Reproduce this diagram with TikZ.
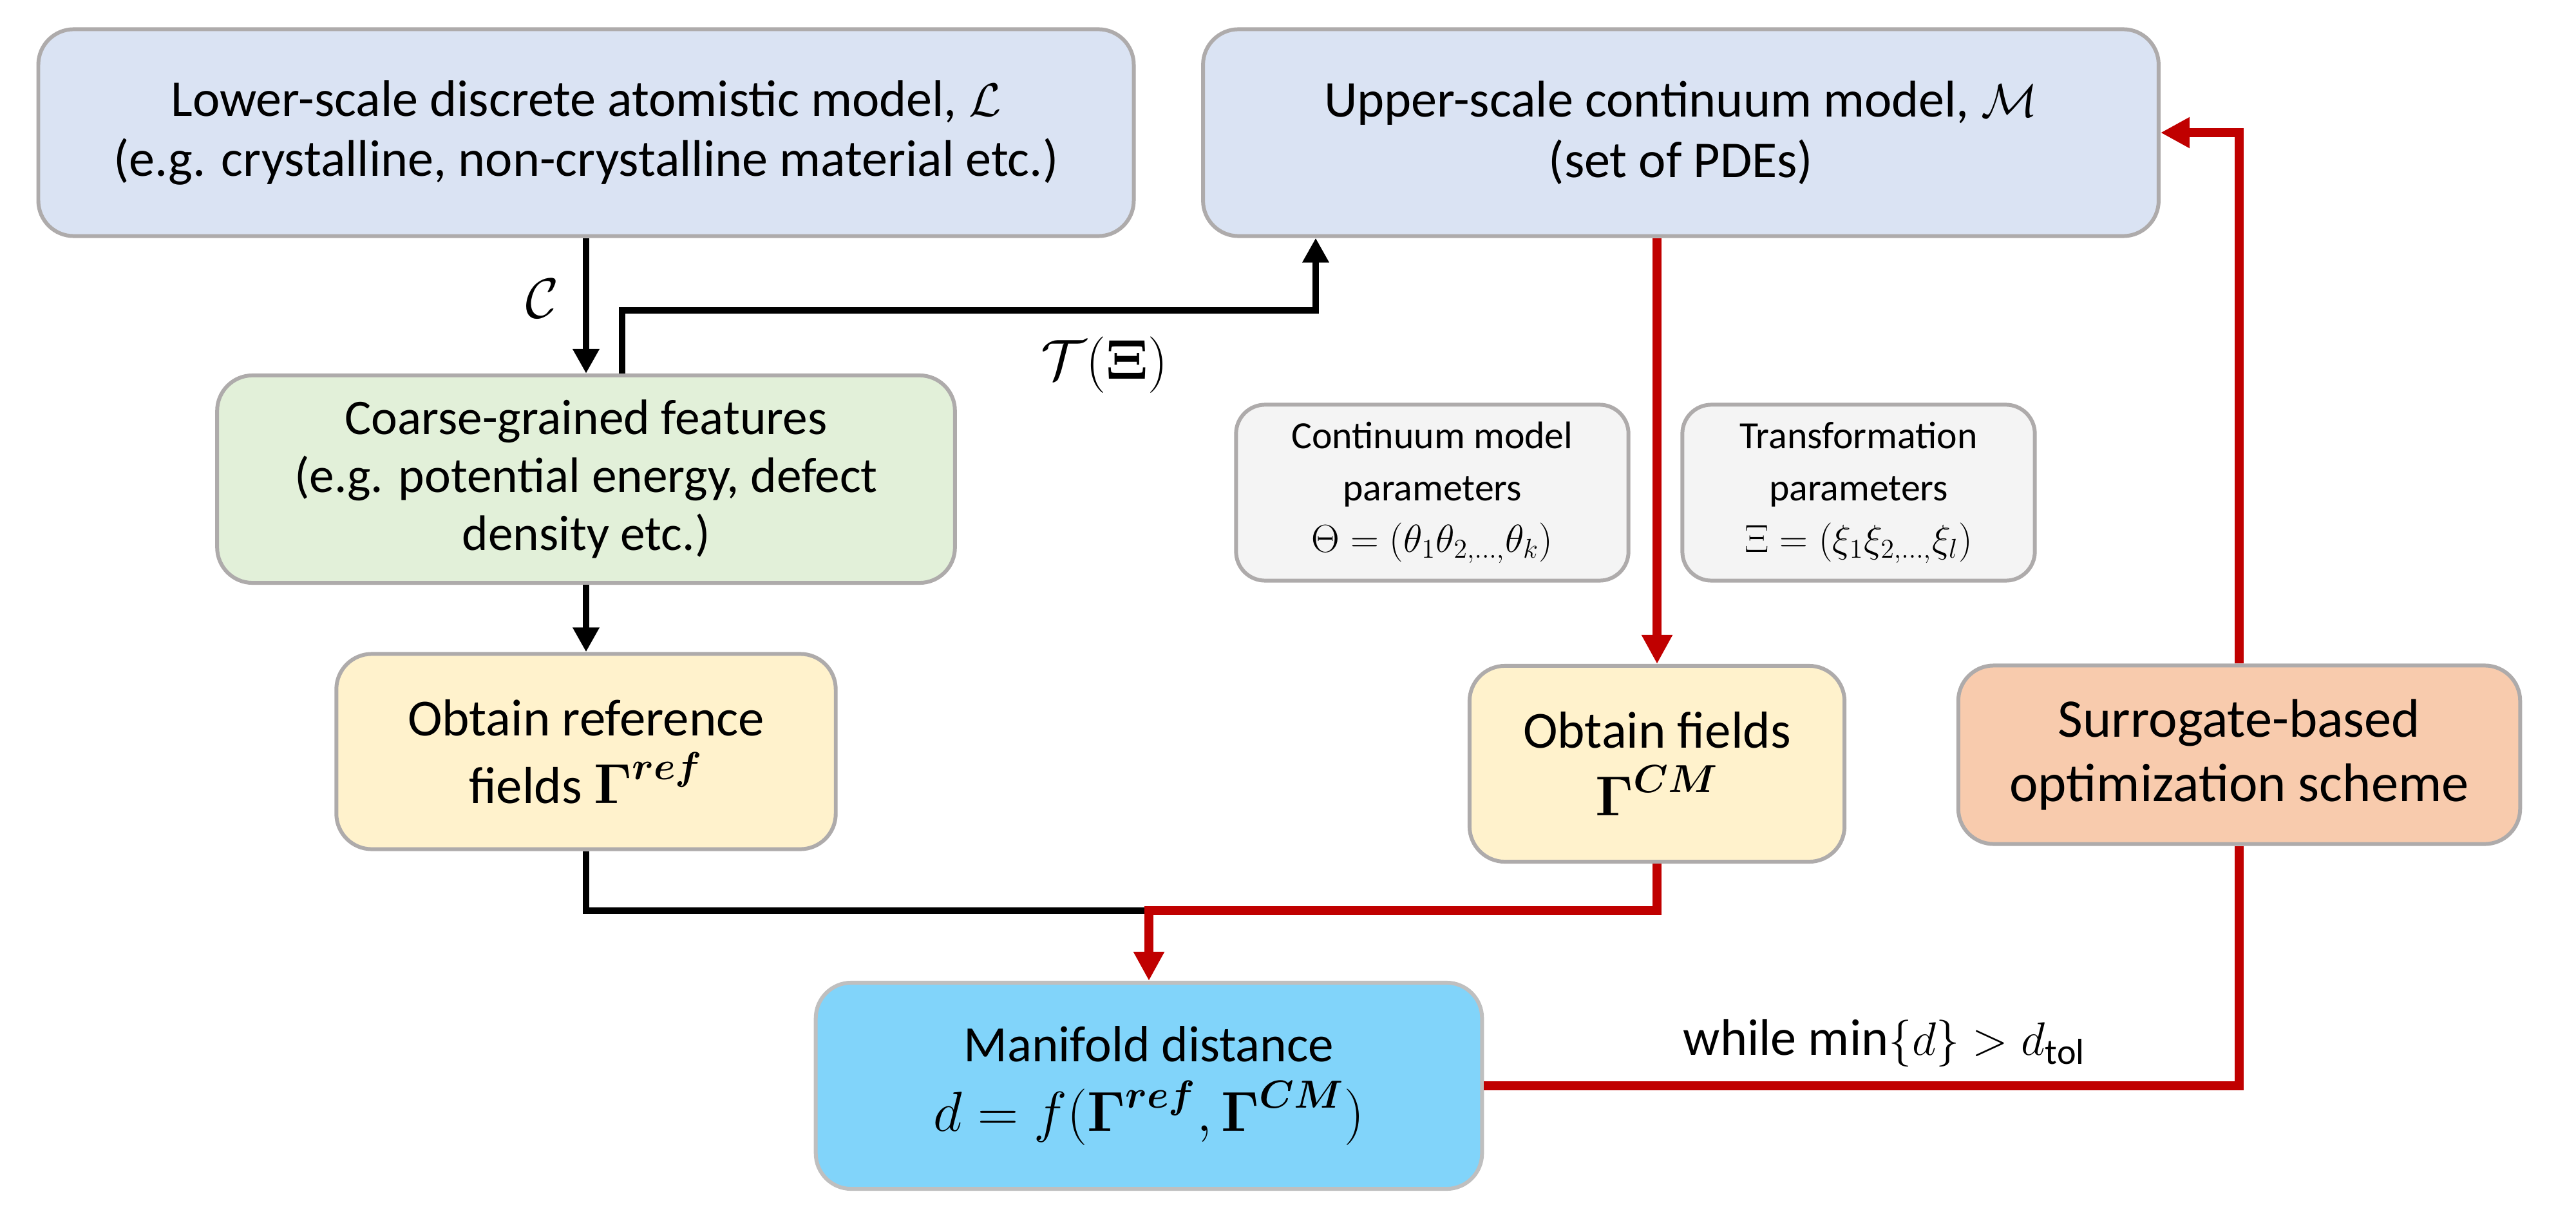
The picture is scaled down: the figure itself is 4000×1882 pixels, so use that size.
\documentclass[tikz,border=0pt]{standalone}
\usepackage{fontspec}
\setmainfont{Carlito}
\usepackage{amsmath,bm}
\usetikzlibrary{arrows.meta,calc}
\definecolor{lblue}{HTML}{DAE3F3}
\definecolor{lgreen}{HTML}{E2F0D9}
\definecolor{lyellow}{HTML}{FFF2CC}
\definecolor{lorange}{HTML}{F8CBAD}
\definecolor{lgray}{HTML}{F4F4F4}
\definecolor{skyb}{HTML}{81D4FA}
\definecolor{bgray}{HTML}{AEABAB}
\definecolor{bgrayl}{HTML}{BFBFBF}
\definecolor{dred}{HTML}{C00000}
\newcommand\fsMain{\fontsize{22.8pt}{26.7pt}\selectfont}
\newcommand\fsCoarse{\fontsize{22pt}{25.6pt}\selectfont}
\newcommand\fsObt{\fontsize{23pt}{30pt}\selectfont}
\newcommand\fsSurr{\fontsize{24pt}{28.5pt}\selectfont}
\newcommand\fsSmall{\fontsize{17pt}{22.8pt}\selectfont}
\newcommand\fsMan{\fontsize{22.5pt}{30.7pt}\selectfont}
\newcommand\fsMath{\fontsize{25.5pt}{30pt}\selectfont}
\begin{document}
\begin{tikzpicture}[x=0.01cm,y=-0.01cm,
  box/.style={draw=bgray, line width=1.7pt, rounded corners=0.55cm, align=center, inner sep=0pt},
  smallbox/.style={box, rounded corners=0.45cm, fill=lgray, font=\fsSmall},
  blk/.style={line width=2.85pt, black},
  blkarrow/.style={blk, -{Triangle[length=0.38cm,width=0.39cm]}},
  rd/.style={line width=3.9pt, dred},
  rdarrow/.style={rd, -{Triangle[length=0.45cm,width=0.45cm]}},
  lbl/.style={inner sep=0pt}]
\useasboundingbox (0,0) rectangle (4000,1882);

\node[box, fill=lblue, font=\fsMain, minimum width=17.0cm, minimum height=3.21cm] (L) at (910,206)
  {Lower-scale discrete atomistic model, $\mathcal{L}$\\(e.g. crystalline, non-crystalline material etc.)};
\node[box, fill=lblue, font=\fsMain, minimum width=14.83cm, minimum height=3.21cm] (M) at (2610,206)
  {Upper-scale continuum model, $\mathcal{M}$\\(set of PDEs)};
\node[box, fill=lgreen, font=\fsCoarse, minimum width=11.45cm, minimum height=3.22cm] (Coarse) at (910,744)
  {Coarse-grained features\\(e.g. potential energy, defect\\density etc.)};
\node[box, fill=lyellow, font=\fsObt, minimum width=7.75cm, minimum height=3.03cm] (Ref) at (910,1167)
  {Obtain reference\\fields {\fsMath$\bm{\Gamma}^{\bm{ref}}$}};
\node[smallbox, minimum width=6.09cm, minimum height=2.73cm] (Cont) at (2224,765)
  {Continuum model\\parameters\\$\Theta=(\theta_1\theta_{2,\ldots,}\theta_k)$};
\node[smallbox, minimum width=5.47cm, minimum height=2.73cm] (Trans) at (2886,765)
  {Transformation\\parameters\\$\Xi=(\xi_1\xi_{2,\ldots,}\xi_l)$};
\node[box, fill=lyellow, font=\fsObt, minimum width=5.82cm, minimum height=3.04cm] (Fields) at (2573,1186)
  {Obtain fields\\{\fsMath$\bm{\Gamma}^{\bm{CM}}$}};
\node[box, fill=lorange, font=\fsSurr, minimum width=8.72cm, minimum height=2.77cm] (Surr) at (3477,1172)
  {Surrogate-based\\optimization scheme};
\node[box, draw=bgrayl, fill=skyb, font=\fsMan, minimum width=10.34cm, minimum height=3.20cm] (Man) at (1784,1686)
  {Manifold distance\\{\fsMath$d=f(\bm{\Gamma}^{\bm{ref}},\bm{\Gamma}^{\bm{CM}})$}};

\node[lbl, font=\fsMath] (lc) at (842,464) {$\mathcal{C}$};
\node[lbl, font=\fsMath] (lt) at (1715,567) {$\mathcal{T}(\bm{\Xi})$};
\node[lbl, font=\fsMain] (lw) at (2926,1620) {while $\min\{d\}>d_{\text{tol}}$};

\coordinate (tj) at (2043,482);
\coordinate (jy) at (0,1414);

\draw[blkarrow] (L.south) -- (Coarse.north);
\draw[blkarrow] ($(Coarse.north)+(56,0)$) |- (tj) -- (tj |- M.south);
\draw[blkarrow] (Coarse.south) -- (Ref.north);
\draw[rdarrow] (Fields.north |- M.south) -- (Fields.north);
\draw[blk] (Ref.south) |- (Man.north |- jy);
\draw[rdarrow] (Fields.south) |- (Man.north |- jy) -- (Man.north);
\draw[rd] (Man.east) -| (Surr.south);
\draw[rdarrow] (Surr.north) |- (M.east);
\end{tikzpicture}
\end{document}
